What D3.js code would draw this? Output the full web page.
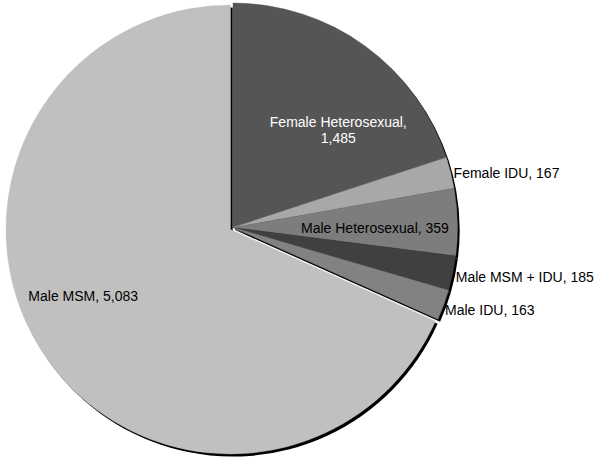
<!DOCTYPE html>
<html>
<head>
<meta charset="utf-8">
<script src="https://cdn.jsdelivr.net/npm/d3@7"></script>
<style>
  html, body { margin: 0; padding: 0; background: #fff; }
  svg { display: block; }
  text { font-family: "Liberation Sans", Arial, sans-serif; font-size: 14px; }
</style>
</head>
<body>
<svg id="chart" width="601" height="462"></svg>
<script>
// Data
const categories = ["Female Heterosexual", "Female IDU", "Male Heterosexual", "Male MSM + IDU", "Male IDU", "Male MSM"];
const values = [1485, 167, 359, 185, 163, 5083];
const valueLabels = ["1,485", "167", "359", "185", "163", "5,083"];

// Styles / layout (not data)
const fills = ["#555555", "#a8a8a8", "#7d7d7d", "#404040", "#828282", "#c0c0c0"];
const textColors = ["#ffffff", "#000000", "#000000", "#000000", "#000000", "#000000"];
const exploded = [true, true, true, true, true, false];
const labelMode = ["inside", "outside", "inside", "outside", "outside", "inside"];
const labelRadius = [142, 227.5, 142, 227.5, 227.5, 160];
const labelNudge = [[22, 18], [0, 1], [0, 4], [0, 3], [-1.5, 4], [-13, -20]];
const labelLines = [
  ["Female Heterosexual,", "1,485"],
  null, null, null, null, null
];

const svg = d3.select("#chart");
const R = 224.5;
const mainCenter = [230.5, 229.5];
const explodeOffset = [2.5, -2];
const shadowOffset = [2.2, 2.6];

const data = categories.map((c, i) => ({ name: c, value: values[i], i }));
const pie = d3.pie().value(d => d.value).sort(null).startAngle(0).endAngle(2 * Math.PI);
const arcs = pie(data);
const arc = d3.arc().innerRadius(0).outerRadius(R);

function centerOf(i) {
  return exploded[i]
    ? [mainCenter[0] + explodeOffset[0], mainCenter[1] + explodeOffset[1]]
    : mainCenter;
}

// Shadow layer
const shadow = svg.append("g");
shadow.selectAll("path").data(arcs).join("path")
  .attr("transform", d => {
    const c = centerOf(d.index);
    return `translate(${c[0] + shadowOffset[0]},${c[1] + shadowOffset[1]})`;
  })
  .attr("d", arc)
  .attr("fill", "#000");

// Slices
const slices = svg.append("g");
slices.selectAll("path").data(arcs).join("path")
  .attr("transform", d => {
    const c = centerOf(d.index);
    return `translate(${c[0]},${c[1]})`;
  })
  .attr("d", arc)
  .attr("fill", d => fills[d.index])
  .attr("stroke", d => fills[d.index])
  .attr("stroke-width", 0.4);

// Labels
const labels = svg.append("g");
arcs.forEach(d => {
  const i = d.index;
  const c = centerOf(i);
  const mid = (d.startAngle + d.endAngle) / 2;
  const r = labelRadius[i];
  const x = c[0] + r * Math.sin(mid) + labelNudge[i][0];
  const y = c[1] - r * Math.cos(mid) + labelNudge[i][1];
  const lines = labelLines[i] || [`${categories[i]}, ${valueLabels[i]}`];
  const t = labels.append("text")
    .attr("x", x)
    .attr("y", y)
    .attr("fill", textColors[i])
    .attr("text-anchor", labelMode[i] === "outside" ? "start" : "middle");
  const lh = 16;
  const start = -(lines.length - 1) * lh / 2;
  lines.forEach((ln, k) => {
    t.append("tspan")
      .attr("x", x)
      .attr("y", y + start + k * lh)
      .attr("dy", "0.35em")
      .text(ln);
  });
});
</script>
</body>
</html>
